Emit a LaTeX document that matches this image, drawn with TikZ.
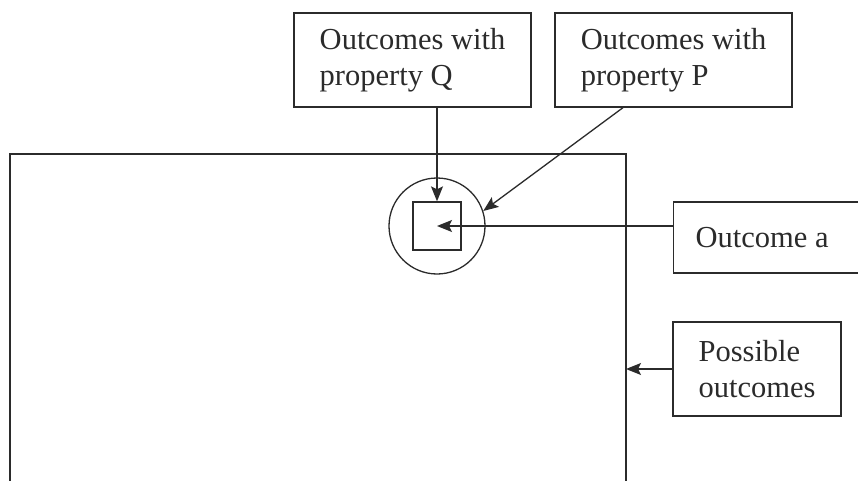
\documentclass[tikz,border=0pt]{standalone}
\usepackage{fontspec}
\setmainfont{Liberation Serif}
\usetikzlibrary{arrows.meta}
\definecolor{ink}{HTML}{2B2B2B}
\tikzset{
  box/.style={draw=ink, line width=1.3pt, rectangle, inner sep=0pt, align=flush left,
    font=\fontsize{30.5}{36.5}\selectfont, text=ink},
  arr/.style={draw=ink, line width=1.3pt, -{Stealth[length=15pt,width=12pt,inset=3pt]}},
  edge/.style={draw=ink, line width=1.3pt},
}
\begin{document}
\begin{tikzpicture}[x=1pt,y=-1pt]
\clip (0,0) rectangle (858,481);
\fill[white] (0,0) rectangle (858,481);
% big rectangle (open at the bottom)
\coordinate (R) at (626,154);
\draw[edge] (10,490) -- (10,154) -- (626,154) -- (626,490);
% circle and square
\node[draw=ink, line width=1.3pt, circle, minimum size=96pt, inner sep=0pt] (circ) at (437,226) {};
\node[draw=ink, line width=1.3pt, rectangle, minimum size=48pt, inner sep=0pt] (sq) at (437,226) {};
% label boxes
\node[box, minimum width=237pt, minimum height=94pt] (Q) at (412.5,60) {Outcomes with\\property Q};
\node[box, minimum width=237pt, minimum height=94pt] (P) at (673.5,60) {Outcomes with\\property P};
\node[box, inner xsep=22pt, text width=156pt, minimum height=71pt, anchor=west] (A) at (673,237.5) {Outcome a};
\node[box, minimum width=168pt, minimum height=94pt] (O) at (757,369) {Possible\\outcomes};
% connectors
\draw[arr] (sq.north |- Q.south) -- (sq.north);
\draw[arr] ([xshift=-50.5pt]P.south) -- (circ.18);
\draw[arr] (sq.center -| A.west) -- (sq.center);
\draw[arr] (O.west) -- (O.west -| R);
\end{tikzpicture}
\end{document}
